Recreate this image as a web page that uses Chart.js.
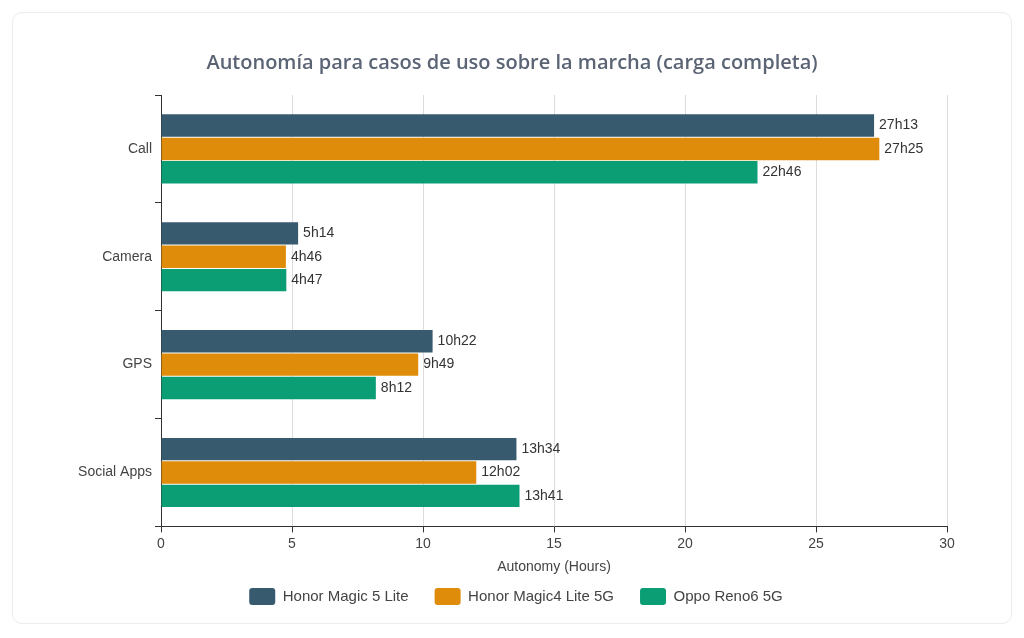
<!DOCTYPE html>
<html>
<head>
    <script src="https://cdn.jsdelivr.net/npm/chart.js"></script>
    <style>
        body { margin: 0; background: #fff; }
        .card {
            position: absolute; left: 12px; top: 12px;
            width: 1000px; height: 612px;
            border: 1px solid #ececec; border-radius: 10px;
            box-sizing: border-box;
        }
    </style>
</head>
<body>
    <div class="card">
        <canvas id="autonomyChart" width="998" height="610"></canvas>
    </div>

    <script>
    const categories = ["Call", "Camera", "GPS", "Social Apps"];
    const seriesNames = ["Honor Magic 5 Lite", "Honor Magic4 Lite 5G", "Oppo Reno6 5G"];
    const magic5Lite = [27.2167, 5.2333, 10.3667, 13.5667];
    const magic4Lite = [27.4167, 4.7667, 9.8167, 12.0333];
    const reno6 = [22.7667, 4.7833, 8.2, 13.6833];
    const magic5LiteLabels = ["27h13", "5h14", "10h22", "13h34"];
    const magic4LiteLabels = ["27h25", "4h46", "9h49", "12h02"];
    const reno6Labels = ["22h46", "4h47", "8h12", "13h41"];
    const colors = ["#375a6e", "#df8c0b", "#0b9d74"];

    const font = "'Liberation Sans', Arial, sans-serif";

    // draws the "27h13" style text at the end of each bar
    const barLabels = {
      id: "barLabels",
      afterDatasetsDraw(chart) {
        const ctx = chart.ctx;
        ctx.save();
        ctx.font = "14px " + font;
        ctx.fillStyle = "#333";
        ctx.textAlign = "left";
        ctx.textBaseline = "middle";
        chart.data.datasets.forEach((ds, i) => {
          chart.getDatasetMeta(i).data.forEach((bar, j) => {
            ctx.fillText(ds.valueLabels[j], bar.x + 5, bar.y);
          });
        });
        ctx.restore();
      }
    };

    // title and legend are centred on the card, not on the padded area
    const recenter = {
      id: "recenter",
      afterLayout(chart) {
        chart.titleBlock.left += 8;
        chart.titleBlock.right += 8;
        chart.legend.left += 12;
        chart.legend.right += 12;
      }
    };

    const ctx = document.getElementById("autonomyChart").getContext("2d");
    new Chart(ctx, {
      type: "bar",
      data: {
        labels: categories,
        datasets: [
          { label: seriesNames[0], data: magic5Lite, valueLabels: magic5LiteLabels, backgroundColor: colors[0] },
          { label: seriesNames[1], data: magic4Lite, valueLabels: magic4LiteLabels, backgroundColor: colors[1] },
          { label: seriesNames[2], data: reno6, valueLabels: reno6Labels, backgroundColor: colors[2] },
        ],
      },
      options: {
        indexAxis: "y",
        responsive: false,
        animation: false,
        categoryPercentage: 0.65,
        barPercentage: 0.96,
        layout: { padding: { left: 48, right: 64, top: 30, bottom: 8 } },
        plugins: {
          title: {
            display: true,
            text: "Autonomía para casos de uso sobre la marcha (carga completa)",
            color: "#5b6475",
            font: { family: "'Open Sans', sans-serif", size: 20, weight: "600" },
            padding: { top: 8, bottom: 20 },
          },
          legend: {
            position: "bottom",
            labels: {
              color: "#444",
              font: { family: font, size: 15 },
              boxWidth: 26,
              boxHeight: 17,
              padding: 26,
              useBorderRadius: true,
              borderRadius: 3,
            },
          },
          tooltip: { enabled: false },
        },
        scales: {
          x: {
            min: 0,
            max: 30,
            ticks: { stepSize: 5, color: "#444", font: { family: font, size: 14 } },
            grid: { color: "#dcdcdc", tickColor: "#333", tickLength: 6 },
            border: { color: "#333" },
            title: {
              display: true,
              text: "Autonomy (Hours)",
              color: "#444",
              font: { family: font, size: 14 },
              padding: { top: 4, bottom: -14 },
            },
          },
          y: {
            afterFit(scale) { scale.width = 100; },
            ticks: { color: "#444", font: { family: font, size: 14 } },
            grid: { drawOnChartArea: false, tickColor: "#333", tickLength: 6 },
            border: { color: "#333" },
          },
        },
      },
      plugins: [barLabels, recenter],
    });
    </script>
</body>
</html>
